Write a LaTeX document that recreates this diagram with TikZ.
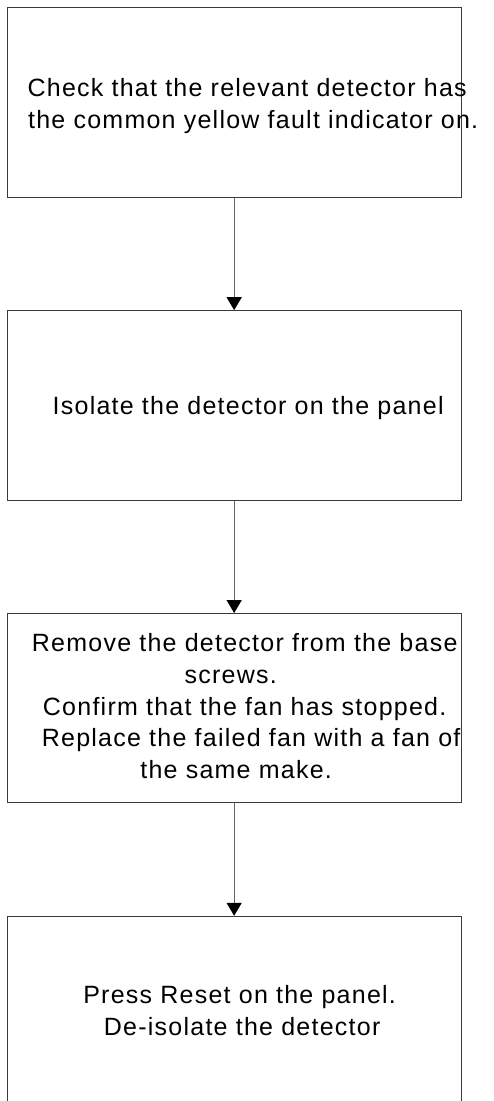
\documentclass[tikz,border=0pt]{standalone}
\usepackage{fontspec}
\usetikzlibrary{arrows.meta}
\newfontfamily\tfont[LetterSpace=5]{Liberation Sans}
\definecolor{boxline}{HTML}{3A3A3A}
\definecolor{conline}{HTML}{666666}
\begin{document}
\begin{tikzpicture}[x=1pt,y=-1pt,
  stepbox/.style={draw=boxline, line width=1pt, rectangle, minimum width=453.7pt, minimum height=189.3pt, inner sep=0pt},
  txt/.style={anchor=north, inner sep=0pt, align=center, font={\tfont\fontsize{25}{31.67}\selectfont}},
  conn/.style={draw=conline, line width=1.3pt, -{Triangle[width=15pt,length=13pt,color=black]}}]
\useasboundingbox (0,0) rectangle (493,1101);
\node[stepbox] (b1) at (234.15,102.35) {};
\node[stepbox] (b2) at (234.15,405.35) {};
\node[stepbox] (b3) at (234.15,708.2) {};
\node[stepbox, minimum height=190pt] (b4) at (234.15,1011.3) {};
\node[txt] (t1) at (234.15,76.7) {\rule{0pt}{20pt}\hspace*{26pt}Check that the relevant detector has\\\hspace*{38pt}the common yellow fault indicator on.};
\node[txt] (t2) at (248.15,394) {\rule{0pt}{20pt}Isolate the detector on the panel};
\node[txt] (t3) at (234.15,631.7) {\rule{0pt}{20pt}\hspace*{21pt}Remove the detector from the base\\\hspace*{-7pt}screws.\\\hspace*{21pt}Confirm that the fan has stopped.\\\hspace*{34pt}Replace the failed fan with a fan of\\\hspace*{4pt}the same make.};
\node[txt] (t4) at (234.15,983.3) {\rule{0pt}{20pt}\hspace*{11pt}Press Reset on the panel.\\\hspace*{16pt}De-isolate the detector};
\draw[conn] (b1.south) -- (b2.north);
\draw[conn] (b2.south) -- (b3.north);
\draw[conn] (b3.south) -- (b4.north);
\end{tikzpicture}
\end{document}
